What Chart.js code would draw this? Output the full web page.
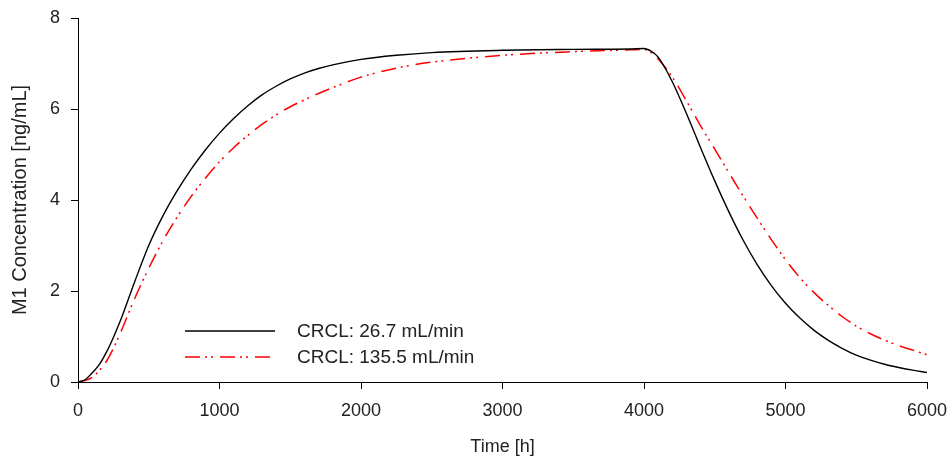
<!DOCTYPE html>
<html>
<head>
<meta charset="utf-8">
<script src="https://cdn.jsdelivr.net/npm/chart.js@4.4.1/dist/chart.umd.min.js"></script>
<style>
  html, body { margin: 0; padding: 0; background: #fff; }
  #wrap { width: 949px; height: 462px; }
</style>
</head>
<body>
<div id="wrap"><canvas id="m1Chart"></canvas></div>
<script>
  // time grid [h] and concentrations [ng/mL]
  const timeH = [0, 50, 100, 150, 200, 250, 300, 400, 500, 600, 700, 800, 900, 1000, 1100, 1200, 1300, 1400, 1500, 1600, 1700, 1800,
    2000, 2250, 2500, 3000, 3500, 3900, 4000, 4050, 4100,
    4200, 4300, 4400, 4500, 4600, 4700, 4800, 4900, 5000, 5100, 5200, 5300, 5400, 5500, 5600, 5700, 5800, 5900, 6000];
  const crcl26 = [0, 0.05, 0.2, 0.38, 0.65, 0.98, 1.35, 2.2, 3.0, 3.65, 4.2, 4.68, 5.1, 5.47, 5.79, 6.07, 6.31, 6.5, 6.66, 6.79, 6.89, 6.97,
    7.09, 7.18, 7.24, 7.29, 7.31, 7.32, 7.33, 7.27, 7.14,
    6.6, 5.9, 5.15, 4.42, 3.74, 3.12, 2.58, 2.12, 1.73, 1.41, 1.14, 0.92, 0.74, 0.59, 0.48, 0.39, 0.32, 0.26, 0.21];
  const crcl135 = [0, 0.03, 0.1, 0.25, 0.45, 0.74, 1.08, 1.83, 2.5, 3.1, 3.62, 4.08, 4.48, 4.84, 5.15, 5.42, 5.66, 5.87, 6.05, 6.2, 6.34, 6.47,
    6.7, 6.9, 7.03, 7.18, 7.26, 7.3, 7.31, 7.24, 7.1,
    6.7, 6.18, 5.63, 5.12, 4.6, 4.09, 3.6, 3.13, 2.69, 2.3, 1.97, 1.69, 1.44, 1.23, 1.06, 0.92, 0.8, 0.7, 0.6];
  const seriesLabels = ['CRCL: 26.7 mL/min', 'CRCL: 135.5 mL/min'];

  const FONT = "'Liberation Sans', Arial, sans-serif";
  const TXT = '#222';

  function toPoints(ys) {
    return timeH.map((t, i) => ({x: t, y: ys[i]}));
  }

  // legend drawn inside the plot, lower left
  const insideLegend = {
    id: 'insideLegend',
    afterDatasetsDraw(chart) {
      const ctx = chart.ctx;
      const rows = [331, 357];
      ctx.save();
      chart.data.datasets.forEach((ds, i) => {
        const y = rows[i];
        ctx.beginPath();
        ctx.strokeStyle = ds.borderColor;
        ctx.lineWidth = ds.borderWidth;
        ctx.setLineDash(ds.borderDash || []);
        ctx.moveTo(185, y);
        ctx.lineTo(275, y);
        ctx.stroke();
        ctx.setLineDash([]);
        ctx.fillStyle = TXT;
        ctx.font = '19px ' + FONT;
        ctx.textBaseline = 'middle';
        ctx.fillText(ds.label, 297, y + 1);
      });
      ctx.restore();
    }
  };

  new Chart('m1Chart', {
    type: 'line',
    data: {
      datasets: [{
        label: seriesLabels[0],
        data: toPoints(crcl26),
        borderColor: '#000',
        borderWidth: 1.4,
        pointRadius: 0,
        cubicInterpolationMode: 'monotone',
        fill: false
      }, {
        label: seriesLabels[1],
        data: toPoints(crcl135),
        borderColor: '#ff0000',
        borderWidth: 1.5,
        borderDash: [15, 5, 2, 4, 2, 7],
        pointRadius: 0,
        cubicInterpolationMode: 'monotone',
        fill: false
      }]
    },
    options: {
      responsive: true,
      maintainAspectRatio: false,
      animation: false,
      layout: {padding: {top: 18, right: 22, left: 0, bottom: 0}},
      scales: {
        x: {
          type: 'linear',
          min: 0, max: 6000,
          afterFit(s) { s.height = 80; s.paddingLeft = 0; s.paddingRight = 0; },
          ticks: {stepSize: 1000, color: TXT, font: {family: FONT, size: 18}, padding: 11, maxRotation: 0,
            callback: (v) => String(v)},
          grid: {drawOnChartArea: false, drawTicks: true, tickLength: 7, color: '#000', tickWidth: 1},
          border: {display: true, color: '#000', width: 1},
          title: {display: true, text: 'Time [h]', color: TXT, font: {family: FONT, size: 18}, padding: {top: 4, bottom: 4}}
        },
        y: {
          min: 0, max: 8,
          afterFit(s) { s.width = 78; s.paddingTop = 0; s.paddingBottom = 0; },
          ticks: {stepSize: 2, color: TXT, font: {family: FONT, size: 18}, padding: 11},
          grid: {drawOnChartArea: false, drawTicks: true, tickLength: 7, color: '#000', tickWidth: 1},
          border: {display: true, color: '#000', width: 1},
          title: {display: true, text: 'M1 Concentration [ng/mL]', color: TXT, font: {family: FONT, size: 20}, padding: {top: 8, bottom: 0}}
        }
      },
      plugins: {
        legend: {display: false},
        tooltip: {enabled: false}
      }
    },
    plugins: [insideLegend]
  });
</script>
</body>
</html>
